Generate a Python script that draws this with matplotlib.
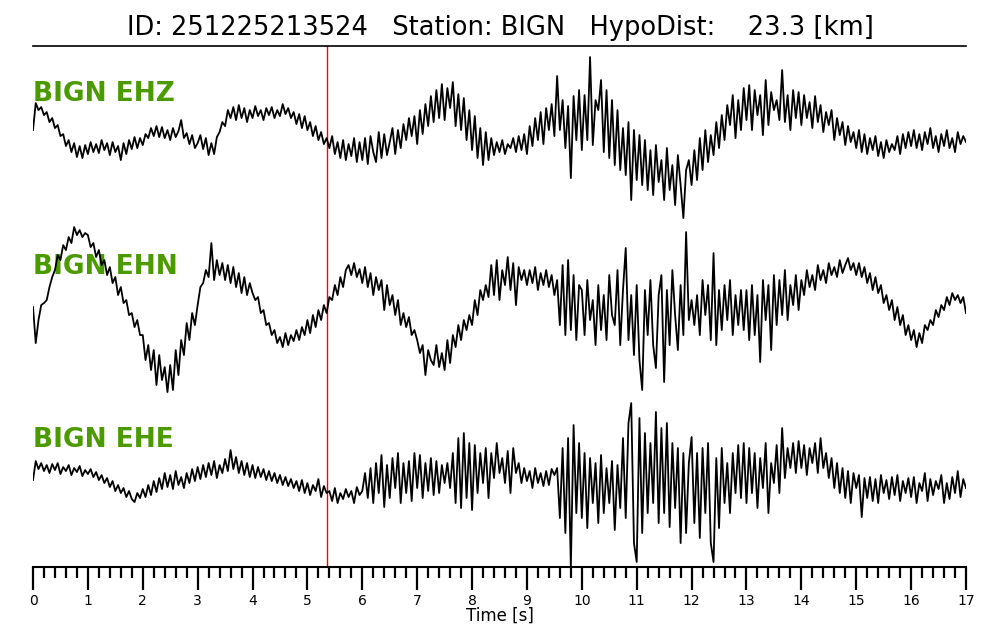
import matplotlib
matplotlib.use("Agg")
import matplotlib.pyplot as plt
import numpy as np
from matplotlib.ticker import MultipleLocator

# traces sampled every 0.05 s, amplitude in plot units (up = positive)
dt = 0.05

ehz = [10, 37, 30, 33, 25, 28, 18, 22, 12, 15, 4, 6, -6, 0, -12, -3, -17, -6, -18, -5,
       -14, -2, -12, -4, -13, 0, -10, -3, -15, -2, -12, -6, -20, -3, -14, 0, -9, 3, -8, 2,
       -5, 6, 2, 12, 4, 14, 3, 13, 2, 10, 0, 12, 3, 9, 20, 2, 7, -4, 5, -8,
       -3, 5, -9, 2, -15, -3, -14, 3, 8, 18, 14, 30, 22, 33, 20, 35, 22, 32, 18, 30,
       22, 34, 24, 30, 20, 32, 25, 33, 22, 30, 24, 36, 26, 32, 22, 28, 16, 26, 12, 24,
       10, 18, 4, 14, 0, 8, -4, 2, -8, 4, -14, -2, -18, 0, -20, -4, -16, 2, -22, -2,
       -20, 2, -24, 4, -12, -22, 8, -18, 6, -15, -2, 12, -14, 10, -8, 16, 0, 22, 4, 24,
       -4, 30, 6, 36, 14, 44, 18, 50, 22, 56, 20, 52, 32, 58, 14, 46, 10, 42, 0, 30,
       -10, 24, -18, 12, -25, 8, -20, 2, -15, -2, -12, 0, -14, -4, -8, 2, -12, 4, -10, 6,
       -14, 14, -6, 22, 0, 28, -4, 32, 10, 36, 4, 64, 10, 40, -8, 34, -38, 44, 0, 50,
       -10, 45, 0, 83, -5, 40, 30, 60, -12, 50, -18, 40, -25, 30, -30, 12, -35, 18, -60, 10,
       -40, 5, -45, 0, -50, -10, -55, -5, -42, -20, -60, -8, -50, -25, -65, -15, -45, -78, -30, -20,
       -45, -10, -40, 2, -30, 10, -22, 5, -15, 18, -8, 25, 0, 35, 15, 45, 2, 40, 10, 52,
       20, 55, 10, 50, 25, 45, 5, 60, 15, 48, 30, 40, 20, 70, 18, 45, 10, 50, 22, 48,
       15, 45, 22, 38, 12, 44, 18, 35, 8, 28, 15, 30, 0, 22, 5, 18, -5, 14, -2, 8,
       -8, 10, -12, 6, -14, 2, -10, 4, -16, -2, -18, 0, -12, -4, -10, 4, -14, 6, -8, 8,
       -6, 10, -8, 6, -10, 8, -4, 12, -8, 4, -12, 6, -6, 10, -8, 2, -12, 8, -4, 4,
       -2]

ehn = [-2, -38, -15, 0, 2, 5, 18, 28, 35, 50, 45, 60, 55, 68, 62, 78, 70, 75, 68, 72,
       70, 58, 62, 48, 55, 40, 45, 30, 38, 22, 28, 10, 18, 2, 5, -10, -8, -22, -15, -30,
       -30, -55, -40, -65, -45, -80, -50, -75, -62, -87, -60, -85, -45, -70, -35, -50, -18, -35, -8, -20,
       0, 18, 22, 35, 28, 62, 25, 45, 30, 42, 25, 40, 22, 38, 18, 32, 12, 28, 10, 22,
       12, 5, 8, -8, -5, -20, -18, -30, -25, -38, -32, -42, -28, -40, -30, -36, -25, -35, -22, -30,
       -15, -28, -10, -22, -5, -15, 0, -8, 8, 5, 20, 10, 28, 18, 35, 40, 30, 42, 28, 36,
       22, 38, 18, 32, 10, 28, 15, 25, -5, 20, 0, 10, -10, 5, -20, -8, -22, -12, -30, -25,
       -35, -48, -40, -70, -45, -55, -60, -40, -62, -48, -65, -35, -58, -30, -42, -20, -35, -15, -25, -10,
       -20, 5, -10, 15, 5, 20, 8, 40, 10, 45, 5, 35, 20, 48, 15, 42, 0, 38, 25, 35,
       20, 35, 22, 38, 15, 32, 20, 35, 18, 30, 10, 25, -20, 40, -30, 45, -25, 30, -35, 20,
       15, -30, 25, -15, 5, -40, 20, -25, 10, -35, 30, -10, -20, 35, -40, 15, 57, -35, 10, -50,
       20, -55, -85, 15, -30, 25, -40, -63, 10, 30, -77, 15, -40, 35, -10, -45, 20, -30, 73, -15,
       5, -20, 10, -30, 25, -10, 20, -35, 52, -40, 15, -25, 20, -15, 25, -30, 10, -20, 15, -25,
       15, -35, 20, -30, 10, -57, 25, -15, 20, -45, 30, -20, 25, -10, 35, -15, 20, 0, 30, -5,
       25, 10, 35, 18, 30, 15, 40, 25, 35, 22, 42, 30, 38, 28, 45, 32, 40, 47, 35, 42,
       30, 42, 28, 38, 22, 32, 15, 28, 12, 20, 2, 10, -5, 5, -15, -2, -20, -10, -30, -20,
       -35, -25, -42, -28, -38, -20, -25, -15, -20, -5, -12, 0, -5, 8, 0, 12, 5, 10, 2, 8,
       -8]

ehe = [3, 22, 14, 20, 12, 18, 10, 19, 13, 20, 9, 16, 12, 18, 8, 15, 11, 17, 7, 13,
       9, 14, 6, 11, 3, 8, 0, 5, -4, 2, -8, -2, -10, -5, -14, -8, -16, -19, -10, -15,
       -6, -14, -2, -12, 2, -9, 5, -6, 10, -4, 8, -6, 12, -2, 6, -5, 10, 0, 14, 2,
       16, 4, 18, 6, 20, 8, 22, 5, 18, 10, 24, 12, 33, 14, 26, 10, 22, 8, 20, 6,
       18, 5, 16, 6, 14, 3, 12, 2, 10, 0, 8, -2, 6, -3, 4, -5, 2, -8, 3, -10,
       0, -12, -2, -8, 4, -14, -3, -10, -8, -18, -5, -20, -10, -16, -6, -14, -8, -20, -4, -12,
       -8, 10, -15, 15, -20, 20, -10, 28, -24, 18, -15, 25, -5, 30, -20, 20, -10, 22, -18, 30,
       -5, 28, -15, 20, -8, 25, -12, 22, -10, 18, 0, 20, -5, 30, -20, 45, -25, 50, -15, 40,
       -27, 38, -10, 30, 0, 35, -15, 30, 5, 40, 10, 25, 0, 32, -10, 35, 10, 20, 0, 15,
       2, 12, -5, 15, 0, 10, -3, 12, -2, 14, 8, 15, -35, 35, -50, 45, -84, 58, -30, 40,
       -35, 30, -45, 25, -20, 20, -40, 28, -30, 15, -20, 22, -47, 18, -25, 45, -35, 60, 80, -60,
       -79, 65, -50, 50, -30, 40, -20, 71, -40, 55, -30, 60, -44, 40, -25, 35, -60, 30, -50, 20,
       46, -40, 30, -55, 35, -30, 40, -60, -79, 25, -45, 35, -20, 20, -30, 30, -10, 38, -15, 40,
       -20, 35, -10, 30, -25, 25, -5, 40, -30, 20, 0, 38, -10, 55, 5, 35, 15, 40, 10, 42,
       15, 38, 8, 35, 20, 40, 10, 45, 15, 30, 5, 25, -5, 20, -10, 15, -15, 12, -20, 10,
       -5, 8, -34, 5, -15, 6, -18, 4, -20, 8, -10, 3, -16, 6, -12, 8, -18, 2, -10, 5,
       -14, 6, -20, 0, -8, 10, -18, 4, -12, 2, -6, 8, -20, 0, -16, 6, -10, 12, -14, 4,
       -5]

channels = ["BIGN EHZ", "BIGN EHN", "BIGN EHE"]
offsets = [500, 335, 157]
label_y = [539, 366, 193]
pick_time = 5.357
title = "ID: 251225213524   Station: BIGN   HypoDist:    23.3 [km]"

fig = plt.figure(figsize=(10, 6.4), dpi=100)
ax = fig.add_axes([0.033, 0.114, 0.933, 0.814])

for tr, off, name, ly in zip([ehz, ehn, ehe], offsets, channels, label_y):
    t = np.arange(len(tr)) * dt
    ax.plot(t, np.array(tr) + off, color="black", lw=1.3, zorder=3)
    ax.text(0.0, ly, name, color="#4a9a00", fontsize=19, fontweight="bold",
            va="baseline", ha="left", zorder=1)

ax.axvline(pick_time, color="red", lw=1.0, zorder=2)

ax.set_xlim(0, 17)
ax.set_ylim(73, 594)
ax.xaxis.set_major_locator(MultipleLocator(1))
ax.xaxis.set_minor_locator(MultipleLocator(0.2))
ax.tick_params(axis="x", which="major", direction="out", length=16.5, width=1.6,
               labelsize=10, pad=3)
ax.tick_params(axis="x", which="minor", direction="out", length=8, width=1.6)
ax.set_yticks([])
ax.spines["left"].set_visible(False)
ax.spines["right"].set_visible(False)
ax.spines["bottom"].set_linewidth(1.5)
ax.spines["top"].set_linewidth(1.2)
ax.set_xlabel("Time [s]", fontsize=12, labelpad=-1)

fig.text(0.5, 1 - 28 / 640, title, ha="center", va="center", fontsize=18.5)

fig.savefig("out.png", dpi=100)
